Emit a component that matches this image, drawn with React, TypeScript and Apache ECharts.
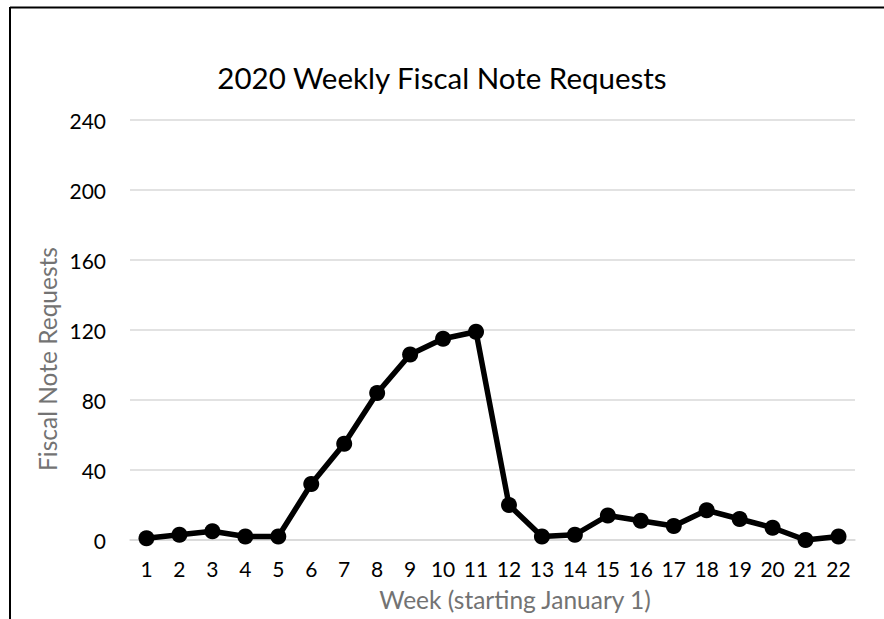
import React, { useEffect, useRef } from "react";
import * as echarts from "echarts";

const weeks = ["1","2","3","4","5","6","7","8","9","10","11","12","13","14","15","16","17","18","19","20","21","22"];
const requests = [1, 3, 5, 2, 2, 32, 55, 84, 106, 115, 119, 20, 2, 3, 14, 11, 8, 17, 12, 7, 0, 2];
const yTicks = [0, 40, 80, 120, 160, 200, 240];

const FONT = "Lato";

export default function App() {
  const ref = useRef<HTMLDivElement>(null);
  useEffect(() => {
    if (!ref.current) return;
    const chart = echarts.init(ref.current, null, { renderer: "svg" });
    chart.setOption({
      animation: false,
      backgroundColor: "#ffffff",
      title: {
        text: "2020 Weekly Fiscal Note Requests",
        left: 437,
        top: 57,
        textAlign: "center",
        textStyle: { fontFamily: FONT, fontSize: 29.5, fontWeight: "normal", color: "#000" },
      },
      grid: { left: 130, right: 29, top: 120, bottom: 79, containLabel: false },
      xAxis: {
        type: "category",
        data: weeks,
        boundaryGap: true,
        axisLine: { show: true, lineStyle: { color: "#d9d9d9", width: 1.5 } },
        axisTick: { show: false },
        axisLabel: { fontFamily: FONT, fontSize: 21, color: "#000", margin: 18 },
      },
      yAxis: {
        type: "value",
        min: yTicks[0],
        max: yTicks[yTicks.length - 1],
        interval: 40,
        axisLine: { show: false },
        axisTick: { show: false },
        splitLine: { lineStyle: { color: "#d9d9d9", width: 1.5 } },
        axisLabel: { fontFamily: FONT, fontSize: 21, color: "#000", margin: 24 },
      },
      series: [
        {
          type: "line",
          data: requests,
          symbol: "circle",
          symbolSize: 16,
          lineStyle: { color: "#000", width: 5.5 },
          itemStyle: { color: "#000" },
        },
      ],
      graphic: [
        { type: "line", shape: { x1: 10, y1: 7.5, x2: 884, y2: 7.5 }, style: { stroke: "#000", lineWidth: 2 } },
        { type: "line", shape: { x1: 10, y1: 7, x2: 10, y2: 619 }, style: { stroke: "#000", lineWidth: 2 } },
        {
          type: "text",
          x: 47,
          y: 359,
          rotation: Math.PI / 2,
          style: {
            text: "Fiscal Note Requests",
            fontFamily: FONT,
            fontSize: 24.5,
            fill: "#737373",
            align: "center",
            verticalAlign: "middle",
          },
        },
        {
          type: "text",
          x: 515,
          y: 599,
          style: {
            text: "Week (starting January 1)",
            fontFamily: FONT,
            fontSize: 24.5,
            fill: "#737373",
            align: "center",
            verticalAlign: "middle",
          },
        },
      ],
    });
    return () => chart.dispose();
  }, []);
  return <div ref={ref} style={{ position: "fixed", left: 0, top: 0, width: 884, height: 619 }} />;
}
